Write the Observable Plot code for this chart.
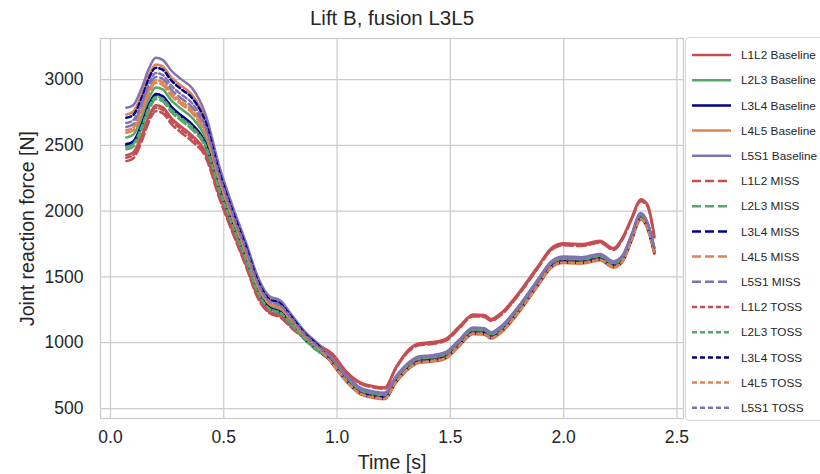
<!DOCTYPE html>
<html><head><meta charset="utf-8">
<script src="https://cdn.jsdelivr.net/npm/d3@7"></script>
<script src="https://cdn.jsdelivr.net/npm/@observablehq/plot@0.6"></script>
<style>body{margin:0;background:#fff;}</style>
</head><body><div id="chart"></div>
<script>
const chartTitle = "Lift B, fusion L3L5";
const xLabel = "Time [s]";
const yLabel = "Joint reaction force [N]";
const xTicks = [0, 0.5, 1.0, 1.5, 2.0, 2.5];
const yTicks = [500, 1000, 1500, 2000, 2500, 3000];
const segments = ["L1L2", "L2L3", "L3L4", "L4L5", "L5S1"];
const conditions = ["Baseline", "MISS", "TOSS"];
const segmentColors = ["#c44e52", "#55a868", "#00008b", "#dd8452", "#8172b3"];

const time = [0.07, 0.10, 0.14, 0.17, 0.20, 0.23, 0.27, 0.31, 0.36, 0.42, 0.48, 0.54, 0.60, 0.65, 0.70, 0.75, 0.80, 0.86, 0.92, 0.98, 1.04, 1.10, 1.16, 1.21, 1.26, 1.32, 1.36, 1.42, 1.48, 1.54, 1.60, 1.65, 1.68, 1.72, 1.80, 1.88, 1.95, 2.00, 2.08, 2.16, 2.22, 2.26, 2.30, 2.34, 2.37, 2.40];

const L1L2_Baseline = [2425, 2445, 2585, 2725, 2805, 2790, 2705, 2645, 2575, 2446, 2127, 1852, 1590, 1358, 1240, 1205, 1121, 1040, 980, 915, 785, 700, 670, 660, 815, 955, 995, 1005, 1030, 1125, 1215, 1210, 1180, 1220, 1375, 1565, 1725, 1755, 1750, 1775, 1720, 1800, 1950, 2090, 2050, 1815];
const L2L3_Baseline = [2560, 2580, 2720, 2860, 2940, 2925, 2840, 2780, 2710, 2554, 2208, 1920, 1651, 1412, 1284, 1249, 1155, 1036, 946, 875, 745, 650, 620, 610, 735, 845, 885, 895, 920, 1015, 1105, 1100, 1070, 1110, 1265, 1455, 1615, 1645, 1640, 1665, 1610, 1655, 1815, 1975, 1905, 1715];
const L3L4_Baseline = [2510, 2530, 2670, 2810, 2890, 2875, 2790, 2730, 2660, 2514, 2178, 1895, 1628, 1392, 1268, 1233, 1142, 1026, 937, 855, 725, 630, 600, 590, 715, 825, 865, 875, 900, 995, 1085, 1080, 1050, 1090, 1245, 1435, 1595, 1625, 1620, 1645, 1590, 1635, 1795, 1955, 1885, 1695];
const L4L5_Baseline = [2735, 2755, 2895, 3035, 3115, 3100, 3015, 2955, 2885, 2694, 2313, 2008, 1730, 1482, 1340, 1305, 1199, 1071, 978, 835, 705, 610, 580, 570, 695, 805, 845, 855, 880, 975, 1065, 1060, 1030, 1070, 1225, 1415, 1575, 1605, 1600, 1625, 1570, 1615, 1775, 1935, 1865, 1675];
const L5S1_Baseline = [2785, 2805, 2945, 3085, 3165, 3150, 3065, 3005, 2935, 2734, 2343, 2033, 1752, 1502, 1356, 1321, 1211, 1081, 987, 885, 755, 660, 630, 620, 745, 855, 895, 905, 930, 1025, 1115, 1110, 1080, 1120, 1275, 1465, 1625, 1655, 1650, 1675, 1620, 1665, 1825, 1985, 1915, 1725];

const L1L2_MISS = [2380, 2400, 2540, 2680, 2760, 2745, 2660, 2600, 2530, 2410, 2100, 1830, 1570, 1340, 1226, 1191, 1110, 1030, 970, 905, 775, 690, 660, 650, 805, 940, 980, 990, 1015, 1110, 1200, 1195, 1165, 1205, 1360, 1550, 1710, 1740, 1735, 1760, 1705, 1785, 1935, 2075, 2035, 1800];
const L2L3_MISS = [2470, 2490, 2630, 2770, 2850, 2835, 2750, 2690, 2620, 2482, 2154, 1875, 1610, 1376, 1255, 1220, 1132, 1018, 930, 870, 740, 645, 615, 605, 730, 840, 880, 890, 915, 1010, 1100, 1095, 1065, 1105, 1260, 1450, 1610, 1640, 1635, 1660, 1605, 1650, 1810, 1970, 1900, 1710];
const L3L4_MISS = [2500, 2520, 2660, 2800, 2880, 2865, 2780, 2720, 2650, 2506, 2172, 1890, 1624, 1388, 1264, 1229, 1140, 1024, 936, 848, 718, 623, 593, 583, 708, 818, 858, 868, 893, 988, 1078, 1073, 1043, 1083, 1238, 1428, 1588, 1618, 1613, 1638, 1583, 1628, 1788, 1948, 1878, 1688];
const L4L5_MISS = [2595, 2615, 2755, 2895, 2975, 2960, 2875, 2815, 2745, 2582, 2229, 1938, 1667, 1426, 1295, 1260, 1164, 1043, 953, 845, 715, 620, 590, 580, 705, 815, 855, 865, 890, 985, 1075, 1070, 1040, 1080, 1235, 1425, 1585, 1615, 1610, 1635, 1580, 1625, 1785, 1945, 1875, 1685];
const L5S1_MISS = [2640, 2660, 2800, 2940, 3020, 3005, 2920, 2860, 2790, 2618, 2256, 1960, 1687, 1444, 1309, 1274, 1175, 1052, 961, 880, 750, 655, 625, 615, 740, 850, 890, 900, 925, 1020, 1110, 1105, 1075, 1115, 1270, 1460, 1620, 1650, 1645, 1670, 1615, 1660, 1820, 1980, 1910, 1720];

const L1L2_TOSS = [2405, 2425, 2565, 2705, 2785, 2770, 2685, 2625, 2555, 2430, 2115, 1842, 1581, 1350, 1234, 1199, 1116, 1035, 975, 910, 780, 695, 665, 655, 810, 945, 985, 995, 1020, 1115, 1205, 1200, 1170, 1210, 1365, 1555, 1715, 1745, 1740, 1765, 1710, 1790, 1940, 2080, 2040, 1805];
const L2L3_TOSS = [2490, 2510, 2650, 2790, 2870, 2855, 2770, 2710, 2640, 2498, 2166, 1885, 1619, 1384, 1261, 1226, 1137, 1022, 934, 868, 738, 643, 613, 603, 728, 838, 878, 888, 913, 1008, 1098, 1093, 1063, 1103, 1258, 1448, 1608, 1638, 1633, 1658, 1603, 1648, 1808, 1968, 1898, 1708];
const L3L4_TOSS = [2710, 2730, 2870, 3010, 3090, 3075, 2990, 2930, 2860, 2674, 2298, 1995, 1719, 1472, 1332, 1297, 1193, 1066, 973, 842, 712, 617, 587, 577, 702, 812, 852, 862, 887, 982, 1072, 1067, 1037, 1077, 1232, 1422, 1582, 1612, 1607, 1632, 1577, 1622, 1782, 1942, 1872, 1682];
const L4L5_TOSS = [2615, 2635, 2775, 2915, 2995, 2980, 2895, 2835, 2765, 2598, 2241, 1948, 1676, 1434, 1301, 1266, 1169, 1047, 956, 840, 710, 615, 585, 575, 700, 810, 850, 860, 885, 980, 1070, 1065, 1035, 1075, 1230, 1420, 1580, 1610, 1605, 1630, 1575, 1620, 1780, 1940, 1870, 1680];
const L5S1_TOSS = [2670, 2690, 2830, 2970, 3050, 3035, 2950, 2890, 2820, 2642, 2274, 1975, 1701, 1456, 1319, 1284, 1183, 1058, 966, 878, 748, 653, 623, 613, 738, 848, 888, 898, 923, 1018, 1108, 1103, 1073, 1113, 1268, 1458, 1618, 1648, 1643, 1668, 1613, 1658, 1818, 1978, 1908, 1718];

const seriesValues = {
  Baseline: [L1L2_Baseline, L2L3_Baseline, L3L4_Baseline, L4L5_Baseline, L5S1_Baseline],
  MISS: [L1L2_MISS, L2L3_MISS, L3L4_MISS, L4L5_MISS, L5S1_MISS],
  TOSS: [L1L2_TOSS, L2L3_TOSS, L3L4_TOSS, L4L5_TOSS, L5S1_TOSS]
};

const names = [];
const rows = [];
for (const cond of conditions) {
  segments.forEach((seg, si) => {
    const name = seg + " " + cond;
    names.push(name);
    seriesValues[cond][si].forEach((v, i) => rows.push({t: time[i], v, name, seg, cond}));
  });
}
const colorRange = names.map(n => segmentColors[segments.indexOf(n.split(" ")[0])]);
const dashes = {Baseline: null, MISS: "9,4", TOSS: "5,3"};

const font = "'Liberation Sans', Arial, sans-serif";
const chart = Plot.plot({
  width: 820, height: 474,
  marginLeft: 100, marginRight: 137, marginTop: 38, marginBottom: 56,
  style: {fontFamily: font, fontSize: "17.5px", color: "#262626", background: "#ffffff"},
  x: {domain: [-0.044, 2.529]},
  y: {domain: [424, 3312]},
  color: {domain: names, range: colorRange},
  marks: [
    Plot.gridX({ticks: xTicks, stroke: "#cccccc", strokeOpacity: 1, strokeWidth: 1.25}),
    Plot.gridY({ticks: yTicks, stroke: "#cccccc", strokeOpacity: 1, strokeWidth: 1.25}),
    Plot.frame({stroke: "#cccccc", strokeWidth: 1.25}),
    Plot.axisX({ticks: xTicks, tickSize: 0, tickPadding: 12, tickFormat: d3.format(".1f"), label: null, fontSize: 17.5}),
    Plot.axisY({ticks: yTicks, tickSize: 0, tickPadding: 17, tickFormat: d => String(d), label: null, fontSize: 17.5}),
    ...conditions.map(cond => Plot.line(rows.filter(d => d.cond === cond), {
      x: "t", y: "v", z: "name", stroke: "name", strokeWidth: 2.5,
      strokeDasharray: dashes[cond], curve: "monotone-x"
    })),
    Plot.text([chartTitle], {frameAnchor: "top", dy: -20, fontSize: 20.5, lineAnchor: "middle", textAnchor: "middle"}),
    Plot.text([yLabel], {frameAnchor: "left", dx: -73, rotate: -90, fontSize: 19.5, lineAnchor: "middle", textAnchor: "middle"}),
    Plot.text([xLabel], {frameAnchor: "bottom", dy: 44, fontSize: 19.5, lineAnchor: "middle", textAnchor: "middle"})
  ]
});
document.getElementById("chart").append(chart);

// legend
const svg = d3.select(chart);
const lg = svg.append("g");
lg.append("rect").attr("x", 685.5).attr("y", 37.5).attr("width", 160).attr("height", 383)
  .attr("rx", 4).attr("fill", "#ffffff").attr("fill-opacity", 0.85).attr("stroke", "#d6d6d6");
names.forEach((n, i) => {
  const y = 55 + i * 25.2;
  const cond = n.split(" ")[1];
  lg.append("line").attr("x1", 692).attr("x2", 731).attr("y1", y).attr("y2", y)
    .attr("stroke", colorRange[i]).attr("stroke-width", 2.5)
    .attr("stroke-dasharray", dashes[cond]);
  lg.append("text").attr("x", 741).attr("y", y).attr("dy", "0.35em")
    .attr("text-anchor", "start")
    .attr("font-family", font).attr("font-size", 11.8).attr("fill", "#262626").text(n);
});
</script>
</body></html>
